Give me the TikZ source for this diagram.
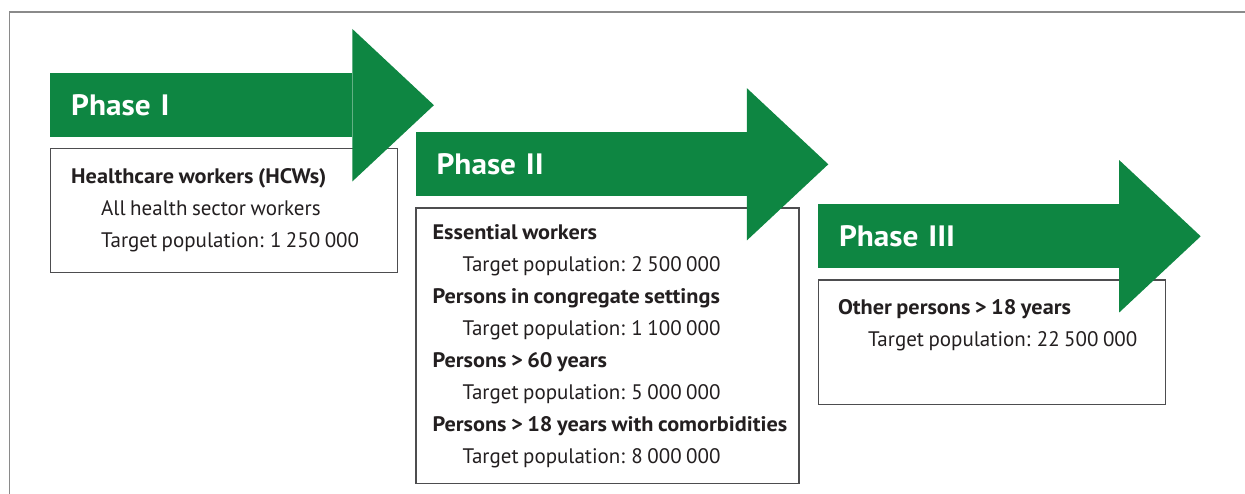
\documentclass[tikz,border=0pt]{standalone}
\usepackage{fontspec}
\setmainfont{PT Sans}[WordSpace=0.8, BoldFeatures={FakeStretch=1.06}]
\usetikzlibrary{positioning,calc}
\definecolor{phaseGreen}{RGB}{14,134,66}
\definecolor{groupInk}{HTML}{231F20}
\definecolor{groupEdge}{HTML}{4D4D4F}
\definecolor{frameEdge}{HTML}{8A8A8A}
\tikzset{
    % green band carrying the phase name
    phaseBar/.style={
        rectangle,
        fill=phaseGreen,
        text=white,
        inner xsep=21pt,
        inner ysep=0pt,
        minimum height=64pt,
        text width=#1,
        align=left,
        font=\fontsize{29.5}{34}\selectfont\bfseries
    },
    % white box listing the target groups
    groupBox/.style={
        rectangle,
        draw=groupEdge,
        line width=1.1pt,
        fill=white,
        inner sep=0pt,
        minimum width=#1
    },
    % anchored on the baseline of the last line
    groupText/.style={
        anchor=base west,
        inner sep=0pt,
        align=left,
        text=groupInk,
        font=\fontsize{21}{32}\selectfont
    }
}
% arrow head on the east side of a phase band
\newcommand{\phasehead}[1]{%
    \fill[phaseGreen] ($(#1.north east)+(0,44)$) -- ($(#1.east)+(81.5,0)$)
        -- ($(#1.south east)+(0,-44)$) -- cycle;}
\newcommand{\indented}{\hspace*{30pt}}

\begin{document}
\begin{tikzpicture}[x=1pt, y=1pt]
\useasboundingbox (0,0) rectangle (1245,493);
\clip (0,0) rectangle (1245,493);
\draw[frameEdge, line width=1.4pt] (9.5,-20) rectangle (1265,481);

% phase I
\node[phaseBar=260pt, anchor=north west] (ph1) at (50,420) {Phase I};
\node[groupBox=347pt, minimum height=124pt, below=11pt of ph1.south west, anchor=north west] (grp1) {};
\node[groupText] (grp1txt) at ($(grp1.north west)+(21,-99)$) {%
    \textbf{Healthcare workers (HCWs)}\\
    \indented All health sector workers\\
    \indented Target population: 1 250 000};

% phase II
\node[phaseBar=289pt, anchor=north west] (ph2) at ($(grp1.north east)+(17.3,16.3)$) {Phase II};
\node[groupBox=383pt, minimum height=275pt, below=11pt of ph2.south west, anchor=north west] (grp2) {};
\node[groupText] (grp2txt) at ($(grp2.north west)+(17,-255.6)$) {%
    \textbf{Essential workers}\\
    \indented Target population: 2 500 000\\
    \textbf{Persons in congregate settings}\\
    \indented Target population: 1 100 000\\
    \textbf{Persons > 60 years}\\
    \indented Target population: 5 000 000\\
    \textbf{Persons > 18 years with comorbidities}\\
    \indented Target population: 8 000 000};

% phase III
\node[phaseBar=259pt, anchor=north west] (ph3) at ($(grp2.north east)+(18.3,3.4)$) {Phase III};
\node[groupBox=347pt, minimum height=124pt, below=11pt of ph3.south west, anchor=north west] (grp3) {};
\node[groupText] (grp3txt) at ($(grp3.north west)+(20,-67)$) {%
    \textbf{Other persons > 18 years}\\
    \indented Target population: 22 500 000};

% heads go over the boxes
\phasehead{ph1}
\phasehead{ph2}
\phasehead{ph3}
\end{tikzpicture}
\end{document}
